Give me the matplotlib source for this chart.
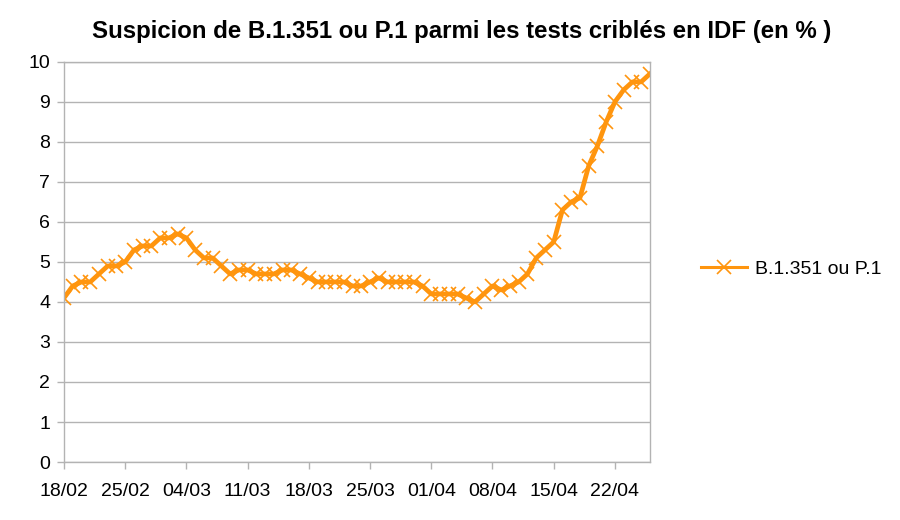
import numpy as np
import matplotlib.pyplot as plt

plt.rcParams['font.family'] = ['Liberation Sans', 'DejaVu Sans']

# daily share (%) from 18/02 to 26/04
tick_labels = ["18/02", "25/02", "04/03", "11/03", "18/03",
               "25/03", "01/04", "08/04", "15/04", "22/04"]
values = [4.1, 4.4, 4.5, 4.5, 4.7, 4.9, 4.9, 5.0, 5.3, 5.4,
          5.4, 5.6, 5.6, 5.7, 5.6, 5.3, 5.1, 5.1, 4.9, 4.7,
          4.8, 4.8, 4.7, 4.7, 4.7, 4.8, 4.8, 4.7, 4.6, 4.5,
          4.5, 4.5, 4.5, 4.4, 4.4, 4.5, 4.6, 4.5, 4.5, 4.5,
          4.5, 4.4, 4.2, 4.2, 4.2, 4.2, 4.1, 4.0, 4.2, 4.4,
          4.3, 4.4, 4.5, 4.7, 5.1, 5.3, 5.5, 6.3, 6.5, 6.6,
          7.4, 7.9, 8.5, 9.0, 9.3, 9.5, 9.5, 9.7]
series_name = "B.1.351 ou P.1"

days = np.arange(len(values))
grid_col = '#b3b3b3'
orange = '#ff950e'

fig = plt.figure(figsize=(9, 5.2), dpi=100)
ax = fig.add_axes([0.0711, 0.1115, 0.651, 0.7695])

ax.plot(days, values, color=orange, linewidth=3.4, marker='x',
        markersize=10, markeredgewidth=1.2, label=series_name)

ax.set_xlim(0, len(values) - 1)
ax.set_ylim(0, 10)
ax.set_yticks(range(0, 11))
ax.set_xticks(np.arange(0, len(values), 7))
ax.set_xticklabels(tick_labels)
ax.yaxis.grid(True, color=grid_col, linewidth=1)
ax.set_axisbelow(True)
for s in ax.spines.values():
    s.set_color(grid_col)
    s.set_linewidth(1)
ax.tick_params(axis='both', colors=grid_col, labelcolor='black',
               labelsize=14, length=5, width=1)
ax.tick_params(axis='x', pad=10)
ax.tick_params(axis='y', pad=5)

fig.text(0.513, 0.94, "Suspicion de B.1.351 ou P.1 parmi les tests criblés en IDF (en % )",
         ha='center', va='center', fontsize=17.3, fontweight='bold')

leg = fig.legend(loc='center left', bbox_to_anchor=(0.759, 0.482), frameon=False,
                 fontsize=14, handlelength=2.4, handletextpad=0.4)
leg.get_lines()[0].set_linewidth(2.2)

fig.savefig('out.png')
